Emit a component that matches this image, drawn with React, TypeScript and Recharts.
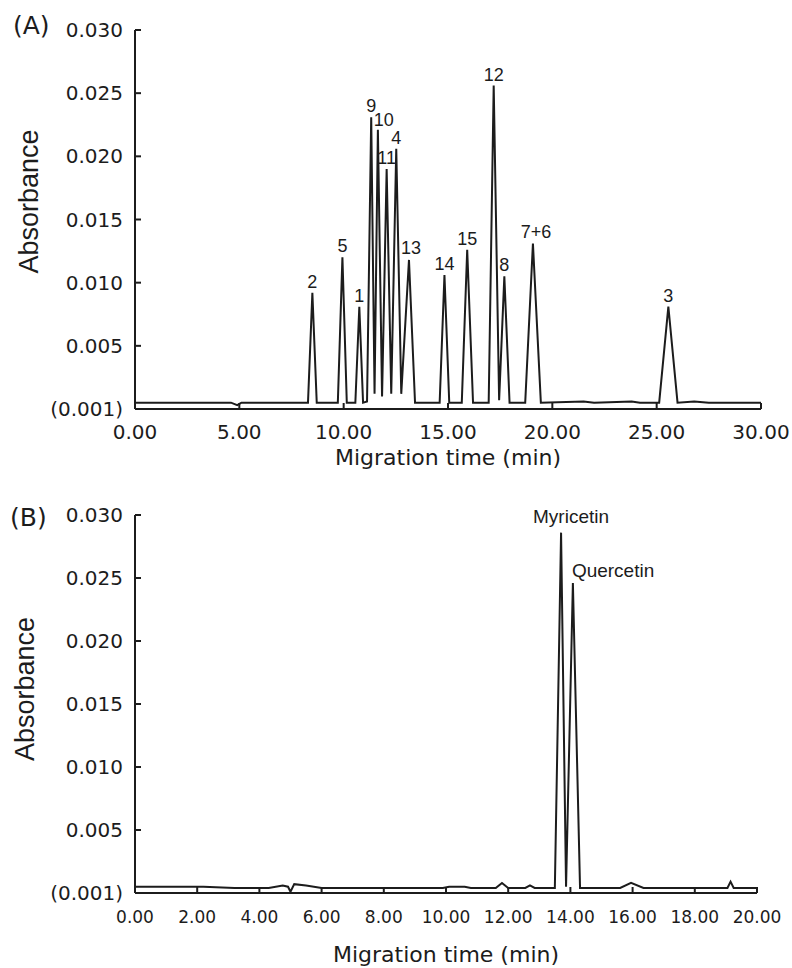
import React from "react";
import { LineChart, Line, XAxis, YAxis, ReferenceDot } from "recharts";

// (A) standard mixture electropherogram
const timeA = [
  0, 2.5, 4.6, 4.9, 5.1, 7.9, 8.29, 8.5, 8.71, 9.72, 9.94, 10.15, 10.56, 10.75,
  10.93, 11.12, 11.32, 11.48, 11.64, 11.84, 12.06, 12.28, 12.52, 12.76, 13.13,
  13.42, 14.6, 14.83, 15.06, 15.66, 15.92, 16.2, 16.95, 17.19, 17.45, 17.7,
  17.95, 18.7, 19.07, 19.45, 21.5, 22, 23.8, 24.2, 25.12, 25.56, 26.0, 26.8,
  27.5, 30,
];
const absA = [
  0.0005, 0.0005, 0.0005, 0.0003, 0.0005, 0.0005, 0.0005, 0.0092, 0.0005,
  0.0005, 0.012, 0.0005, 0.0005, 0.0081, 0.0005, 0.0006, 0.0231, 0.0012,
  0.0221, 0.001, 0.019, 0.0012, 0.0206, 0.0012, 0.0118, 0.0005, 0.0005, 0.0106,
  0.0005, 0.0005, 0.0126, 0.0005, 0.0005, 0.0256, 0.0007, 0.0105, 0.0005,
  0.0005, 0.0131, 0.0005, 0.0006, 0.0005, 0.0006, 0.0005, 0.0005, 0.0081,
  0.0005, 0.0006, 0.0005, 0.0005,
];
const peakNamesA = ["2", "5", "1", "9", "10", "11", "4", "13", "14", "15", "12", "8", "7+6", "3"];
const peakTimesA = [8.5, 9.94, 10.75, 11.32, 11.64, 12.06, 12.52, 13.13, 14.83, 15.92, 17.19, 17.7, 19.07, 25.56];
const peakHeightsA = [0.0092, 0.012, 0.0081, 0.0231, 0.0221, 0.019, 0.0206, 0.0118, 0.0106, 0.0126, 0.0256, 0.0105, 0.0131, 0.0081];
const ticksA = [0, 5, 10, 15, 20, 25, 30];

// (B) sample electropherogram
const timeB = [
  0, 2.2, 3.2, 4.3, 4.75, 4.92, 5.0, 5.12, 5.5, 6.0, 9.9, 10.1, 10.6, 10.8,
  11.6, 11.8, 12.0, 12.55, 12.7, 12.85, 13.5, 13.7, 13.86, 14.08, 14.31, 15.6,
  15.95, 16.35, 19.05, 19.15, 19.25, 20,
];
const absB = [
  0.0005, 0.0005, 0.0004, 0.0004, 0.0006, 0.0005, 0.0001, 0.0007, 0.0006,
  0.0004, 0.0004, 0.0005, 0.0005, 0.0004, 0.0004, 0.0008, 0.0004, 0.0004,
  0.0006, 0.0004, 0.0004, 0.0286, 0.0005, 0.0246, 0.0004, 0.0004, 0.0008,
  0.0004, 0.0004, 0.0009, 0.0004, 0.0004,
];
const peakNamesB = ["Myricetin", "Quercetin"];
const peakTimesB = [13.7, 14.08];
const peakHeightsB = [0.0286, 0.0246];
const ticksB = [0, 2, 4, 6, 8, 10, 12, 14, 16, 18, 20];

const yTicks = [0, 0.005, 0.01, 0.015, 0.02, 0.025, 0.03];

const dataA = timeA.map((t, i) => ({ t, a: absA[i] }));
const dataB = timeB.map((t, i) => ({ t, a: absB[i] }));

// small nudges for the peak labels, in px
const nudge: Record<string, [number, number, string]> = {
  "10": [6, 4, "middle"],
  "13": [2, 6, "middle"],
  "7+6": [3, 6, "middle"],
  Myricetin: [10, 10, "middle"],
  Quercetin: [-1, 6, "start"],
};

const ink = "#1c1c1c";
const tickFont = "DejaVu Sans";

const yFmt = (v: number) => (v === 0 ? "(0.001)" : v.toFixed(3));
const xFmt = (v: number) => v.toFixed(2);

const peakLabel = (text: string, size: number) => (props: any) => {
  const vb = props.viewBox;
  const [dx, dy, anchor] = nudge[text] || [0, 5, "middle"];
  return (
    <text
      x={vb.x + dx}
      y={vb.y - dy}
      textAnchor={anchor}
      fontFamily="Liberation Sans"
      fontSize={size}
      fill={ink}
    >
      {text}
    </text>
  );
};

const xTitle = (baseline: number) => (props: any) => {
  const vb = props.viewBox;
  return (
    <text
      x={vb.x + vb.width / 2}
      y={vb.y + baseline}
      textAnchor="middle"
      fontFamily={tickFont}
      fontSize={22}
      fill={ink}
    >
      Migration time (min)
    </text>
  );
};

const yTitle = (xPos: number, shift: number) => (props: any) => {
  const vb = props.viewBox;
  const cx = vb.x + xPos;
  const cy = vb.y + vb.height / 2 + shift;
  return (
    <text
      x={cx}
      y={cy}
      transform={`rotate(-90 ${cx} ${cy})`}
      textAnchor="middle"
      fontFamily="Liberation Sans"
      fontSize={27}
      fill={ink}
    >
      Absorbance
    </text>
  );
};

const axisLine = { stroke: ink, strokeWidth: 2 };

export default function App() {
  return (
    <div
      style={{
        position: "absolute",
        left: 0,
        top: 0,
        width: 792,
        height: 968,
        background: "#fff",
        overflow: "hidden",
      }}
    >
      <div
        style={{
          position: "absolute",
          left: 13,
          top: 13,
          fontFamily: tickFont,
          fontSize: 25,
          lineHeight: 1,
          color: ink,
        }}
      >
        (A)
      </div>
      <div
        style={{
          position: "absolute",
          left: 10,
          top: 505,
          fontFamily: tickFont,
          fontSize: 25,
          lineHeight: 1,
          color: ink,
        }}
      >
        (B)
      </div>

      <div style={{ position: "absolute", left: 0, top: 0 }}>
        <LineChart
          width={792}
          height={480}
          data={dataA}
          margin={{ top: 30, right: 31, bottom: 0, left: 0 }}
        >
          <XAxis
            dataKey="t"
            type="number"
            domain={[0, 30]}
            ticks={ticksA}
            tickFormatter={xFmt}
            height={71}
            tickSize={-6}
            tickMargin={22}
            axisLine={axisLine}
            tickLine={axisLine}
            tick={{ fontFamily: tickFont, fontSize: 20, fill: ink }}
            label={xTitle(56)}
          />
          <YAxis
            type="number"
            domain={[0, 0.03]}
            ticks={yTicks}
            tickFormatter={yFmt}
            width={135}
            tickSize={-6}
            tickMargin={18}
            axisLine={axisLine}
            tickLine={axisLine}
            tick={{ fontFamily: tickFont, fontSize: 20, fill: ink }}
            label={yTitle(38, -18)}
          />
          <Line
            dataKey="a"
            type="linear"
            stroke={ink}
            strokeWidth={2}
            dot={false}
            isAnimationActive={false}
          />
          {peakNamesA.map((name, i) => (
            <ReferenceDot
              key={name}
              x={peakTimesA[i]}
              y={peakHeightsA[i]}
              r={0}
              fill="none"
              stroke="none"
              label={peakLabel(name, 18)}
            />
          ))}
        </LineChart>
      </div>

      <div style={{ position: "absolute", left: 0, top: 480 }}>
        <LineChart
          width={792}
          height={488}
          data={dataB}
          margin={{ top: 35, right: 35, bottom: 0, left: 0 }}
        >
          <XAxis
            dataKey="t"
            type="number"
            domain={[0, 20]}
            ticks={ticksB}
            tickFormatter={xFmt}
            height={75}
            tickSize={-6}
            tickMargin={24}
            axisLine={axisLine}
            tickLine={axisLine}
            tick={{ fontFamily: tickFont, fontSize: 17, fill: ink }}
            label={xTitle(69)}
          />
          <YAxis
            type="number"
            domain={[0, 0.03]}
            ticks={yTicks}
            tickFormatter={yFmt}
            width={135}
            tickSize={-6}
            tickMargin={18}
            axisLine={axisLine}
            tickLine={axisLine}
            tick={{ fontFamily: tickFont, fontSize: 20, fill: ink }}
            label={yTitle(34, -15)}
          />
          <Line
            dataKey="a"
            type="linear"
            stroke={ink}
            strokeWidth={2}
            dot={false}
            isAnimationActive={false}
          />
          {peakNamesB.map((name, i) => (
            <ReferenceDot
              key={name}
              x={peakTimesB[i]}
              y={peakHeightsB[i]}
              r={0}
              fill="none"
              stroke="none"
              label={peakLabel(name, 19)}
            />
          ))}
        </LineChart>
      </div>
    </div>
  );
}
